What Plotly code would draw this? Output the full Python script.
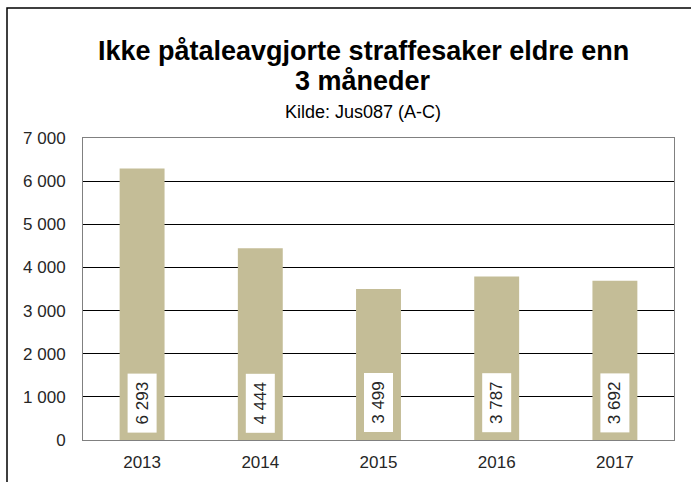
import plotly.graph_objects as go

years = ["2013", "2014", "2015", "2016", "2017"]
values = [6293, 4444, 3499, 3787, 3692]
value_labels = ["6 293", "4 444", "3 499", "3 787", "3 692"]
y_ticks = [0, 1000, 2000, 3000, 4000, 5000, 6000, 7000]
y_tick_labels = ["0", "1 000", "2 000", "3 000", "4 000", "5 000", "6 000", "7 000"]

title_line1 = "Ikke påtaleavgjorte straffesaker eldre enn"
title_line2 = "3 måneder"
subtitle = "Kilde: Jus087 (A-C)"

FONT = "Liberation Sans, Arial, sans-serif"
L, R, T, B = 83, 17, 138, 42
W, H = 691, 482
pw, ph = W - L - R, H - T - B

def px_to_paper_x(px):
    return (px - L) / pw

def px_to_paper_y(py):
    return (H - B - py) / ph

fig = go.Figure()
fig.add_trace(go.Bar(
    x=years, y=values,
    marker=dict(color="#C4BD97", line=dict(width=0)),
    hoverinfo="skip",
))

annotations = []
# on a category axis, annotations are positioned by category index
for idx, lab in enumerate(value_labels):
    annotations.append(dict(
        x=idx, y=0, xref="x", yref="y",
        text=lab, showarrow=False, textangle=-90,
        xanchor="center", yanchor="bottom", yshift=7,
        bgcolor="white", width=56, height=26, borderpad=1,
        font=dict(family=FONT, size=17, color="#262626"),
    ))

annotations += [
    dict(x=px_to_paper_x(363), y=px_to_paper_y(51), xref="paper", yref="paper",
         text="<b>" + title_line1 + "</b>", showarrow=False,
         xanchor="center", yanchor="middle",
         font=dict(family=FONT, size=27, color="black")),
    dict(x=px_to_paper_x(363), y=px_to_paper_y(81), xref="paper", yref="paper",
         text="<b>" + title_line2 + "</b>", showarrow=False,
         xanchor="center", yanchor="middle",
         font=dict(family=FONT, size=27, color="black")),
    dict(x=px_to_paper_x(363), y=px_to_paper_y(112), xref="paper", yref="paper",
         text=subtitle, showarrow=False,
         xanchor="center", yanchor="middle",
         font=dict(family=FONT, size=18, color="black")),
]

fig.update_layout(
    width=W, height=H,
    margin=dict(l=L, r=R, t=T, b=B, pad=0, autoexpand=False),
    paper_bgcolor="white", plot_bgcolor="white",
    showlegend=False,
    bargap=0.62,
    font=dict(family=FONT, size=17, color="#262626"),
    annotations=annotations,
    shapes=[dict(type="rect", xref="paper", yref="paper",
                 x0=px_to_paper_x(7), x1=px_to_paper_x(720),
                 y0=px_to_paper_y(520), y1=px_to_paper_y(8),
                 line=dict(color="black", width=1.5),
                 fillcolor="rgba(0,0,0,0)", layer="below")],
)
fig.update_xaxes(
    type="category", categoryorder="array", categoryarray=years,
    range=[-0.5, len(years) - 0.5], automargin=False,
    showline=True, mirror=True, linecolor="#808080", linewidth=1,
    showgrid=False, ticks="", ticklabelstandoff=7,
    tickfont=dict(family=FONT, size=17, color="#262626"),
)
fig.update_yaxes(
    range=[0, 7000], tickvals=y_ticks, ticktext=y_tick_labels, automargin=False,
    showline=True, mirror=True, linecolor="#808080", linewidth=1,
    showgrid=True, gridcolor="black", gridwidth=1,
    zeroline=False, ticks="", ticklabelstandoff=13,
    tickfont=dict(family=FONT, size=17, color="#262626"),
)

fig.write_html("out.html", config={"displayModeBar": False},
               post_script="document.body.style.margin='0';")
